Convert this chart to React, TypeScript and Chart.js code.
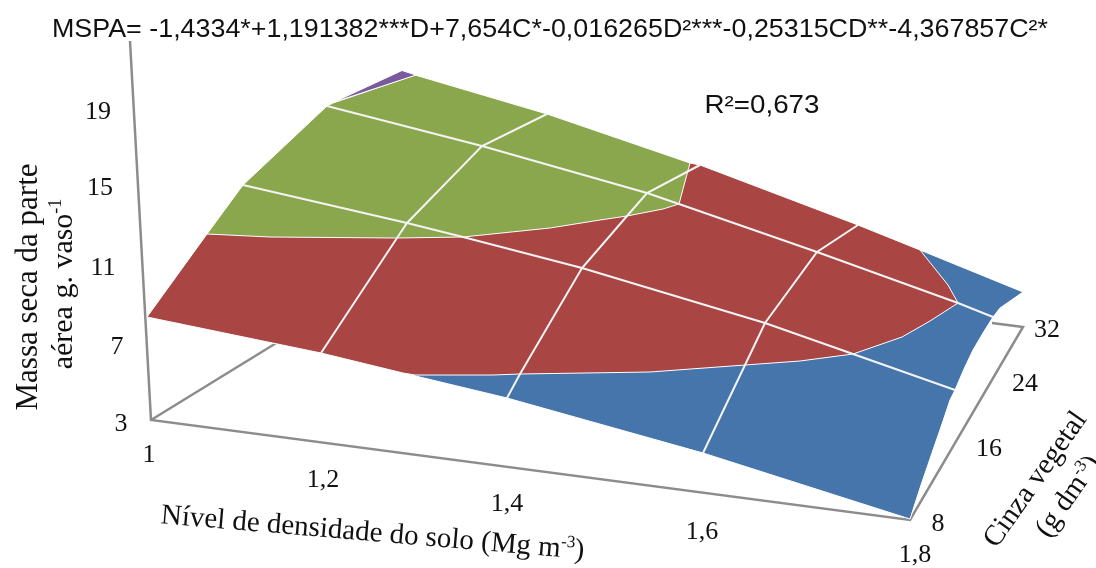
import React, { useEffect, useRef } from "react";
import { Chart, registerables } from "chart.js";

Chart.register(...registerables);

const W = 1096;
const H = 568;

// Mass-axis, density-axis and ash-axis tick labels
const massTicks = ["19", "15", "11", "7", "3"];
const massTickX = [98, 100, 103, 117, 121];
const massTickY = [110, 186, 266, 345, 422];
const densityTicks = ["1", "1,2", "1,4", "1,6", "1,8"];
const densityTickX = [149, 323, 507, 702, 915];
const densityTickY = [453, 478, 502, 530, 553];
const ashTicks = ["8", "16", "24", "32"];
const ashTickX = [938, 989, 1025, 1047];
const ashTickY = [522, 447, 382, 328];

// Box axes in the projected plane of the 3-D chart
const axisX = [130, 151, 910, 1023, 992];
const axisY = [41, 420, 520, 327, 323];
const depthAxisX = [151, 330];
const depthAxisY = [420, 310];

// Bands of the surface in the projected plane
const blueX = [147, 321, 403, 507, 703, 910, 921, 933, 942, 950, 955, 964, 973, 983, 993, 1000, 1023, 920, 858, 700, 690, 547, 415, 403, 333, 327, 243, 207, 147];
const blueY = [317, 353, 373, 398, 453, 519, 485, 450, 424, 400, 390, 369, 350, 333, 317, 308, 292, 250, 225, 165, 163, 114, 75, 72, 103, 106, 185, 234, 317];
const redX = [147, 207, 243, 327, 333, 415, 547, 690, 700, 858, 920, 948, 958, 930, 902, 853, 800, 745, 650, 520, 493, 415, 403, 321, 147];
const redY = [317, 234, 185, 106, 103, 75, 114, 163, 165, 225, 250, 285, 303, 321, 337, 354, 361, 365, 372, 374, 375, 375, 373, 353, 317];
const greenX = [207, 243, 327, 333, 415, 547, 690, 679, 663, 627, 600, 550, 463, 397, 270, 207];
const greenY = [234, 185, 106, 103, 75, 114, 163, 204, 209, 216, 220, 228, 237, 238, 237, 234];
const purpleX = [333, 402, 416, 333];
const purpleY = [102.5, 70.5, 75, 102.5];

// White mesh lines of the surface
const meshD12X = [321, 397, 407, 482, 547];
const meshD12Y = [353, 238, 223, 146, 114];
const meshD14X = [507, 520, 582, 627, 647, 700];
const meshD14Y = [398, 374, 268, 216, 193, 165];
const meshD16X = [703, 745, 765, 817, 858];
const meshD16Y = [453, 365, 323, 252, 225];
const meshC16X = [243, 407, 463, 582, 765, 853, 955];
const meshC16Y = [185, 223, 237, 268, 323, 354, 390];
const meshC24X = [327, 482, 647, 679, 817, 958, 993];
const meshC24Y = [106, 146, 193, 204, 252, 303, 317];

const zip = (xs: number[], ys: number[]) => xs.map((x, i) => ({ x, y: ys[i] }));

const SANS = '"Liberation Sans"';
const SERIF = '"Liberation Serif"';

type Seg = { t: string; sup?: boolean };

function drawText(
  ctx: CanvasRenderingContext2D,
  x: number,
  y: number,
  rot: number,
  segs: Seg[],
  size: number,
  family: string,
  fit?: number
) {
  ctx.save();
  ctx.translate(x, y);
  ctx.rotate((rot * Math.PI) / 180);
  ctx.fillStyle = "#111";
  ctx.textBaseline = "alphabetic";
  ctx.textAlign = "left";
  const fontOf = (s: Seg) => `${s.sup ? Math.round(size * 0.6) : size}px ${family}`;
  let total = 0;
  for (const s of segs) {
    ctx.font = fontOf(s);
    total += ctx.measureText(s.t).width;
  }
  const sx = fit ? fit / total : 1;
  ctx.scale(sx, 1);
  let cx = -total / 2;
  for (const s of segs) {
    ctx.font = fontOf(s);
    ctx.fillText(s.t, cx, s.sup ? -size * 0.36 : 0);
    cx += ctx.measureText(s.t).width;
  }
  ctx.restore();
}

const labelsPlugin = {
  id: "labels3d",
  afterDraw(chart: any) {
    const { ctx, scales } = chart;
    const px = (v: number) => scales.x.getPixelForValue(v);
    const py = (v: number) => scales.y.getPixelForValue(v);
    const tick = (t: string, x: number, y: number) => drawText(ctx, px(x), py(y) + 9, 0, [{ t }], 26, SERIF);
    massTicks.forEach((t, i) => tick(t, massTickX[i], massTickY[i]));
    densityTicks.forEach((t, i) => tick(t, densityTickX[i], densityTickY[i]));
    ashTicks.forEach((t, i) => tick(t, ashTickX[i], ashTickY[i]));
    drawText(ctx, px(550), py(37), 0, [{ t: "MSPA= -1,4334*+1,191382***D+7,654C*-0,016265D²***-0,25315CD**-4,367857C²*" }], 25, SANS, 996);
    drawText(ctx, px(762), py(113), 0, [{ t: "R²=0,673" }], 25, SANS, 115);
    drawText(ctx, px(37), py(287), -90, [{ t: "Massa seca da parte" }], 31, SERIF);
    drawText(ctx, px(72), py(284), -90, [{ t: "aérea g. vaso" }, { t: "-1", sup: true }], 30, SERIF);
    drawText(ctx, px(372), py(541), 4.8, [{ t: "Nível de densidade do solo (Mg m" }, { t: "-3", sup: true }, { t: ")" }], 29, SERIF);
    drawText(ctx, px(1042), py(484), -55, [{ t: "Cinza vegetal" }], 29, SERIF);
    drawText(ctx, px(1075), py(501), -55, [{ t: "(g dm" }, { t: "-3", sup: true }, { t: ")" }], 29, SERIF);
  },
};

const line = (xs: number[], ys: number[], color: string, width: number) => ({
  data: zip(xs, ys),
  showLine: true,
  pointRadius: 0,
  borderColor: color,
  borderWidth: width,
  tension: 0,
  fill: false,
});

const band = (xs: number[], ys: number[], color: string) => ({
  data: zip(xs, ys),
  showLine: true,
  pointRadius: 0,
  borderColor: "#ffffff",
  borderWidth: 1,
  backgroundColor: color,
  tension: 0,
  fill: "shape",
});

export default function App() {
  const ref = useRef<HTMLCanvasElement>(null);
  useEffect(() => {
    if (!ref.current) return;
    // Chart.js paints the first dataset last, so the top layer comes first here
    const chart = new Chart(ref.current, {
      type: "scatter",
      data: {
        datasets: [
          line(meshD12X, meshD12Y, "#f4f4f4", 2),
          line(meshD14X, meshD14Y, "#f4f4f4", 2),
          line(meshD16X, meshD16Y, "#f4f4f4", 2),
          line(meshC16X, meshC16Y, "#f4f4f4", 2),
          line(meshC24X, meshC24Y, "#f4f4f4", 2),
          band(purpleX, purpleY, "#7a5a9c"),
          band(greenX, greenY, "#8aa74e"),
          band(redX, redY, "#a94543"),
          band(blueX, blueY, "#4675ac"),
          line(axisX, axisY, "#8c8c8c", 2.5),
          line(depthAxisX, depthAxisY, "#8c8c8c", 2.5),
        ] as any,
      },
      options: {
        animation: false,
        responsive: false,
        layout: { padding: 0 },
        plugins: { legend: { display: false }, tooltip: { enabled: false } },
        scales: {
          x: { type: "linear", min: 0, max: W, display: false },
          y: { type: "linear", min: 0, max: H, reverse: true, display: false },
        },
      },
      plugins: [labelsPlugin],
    });
    return () => chart.destroy();
  }, []);
  return (
    <div style={{ position: "fixed", left: 0, top: 0, width: W, height: H, background: "#fff" }}>
      <canvas ref={ref} width={W} height={H} style={{ display: "block" }} />
    </div>
  );
}
